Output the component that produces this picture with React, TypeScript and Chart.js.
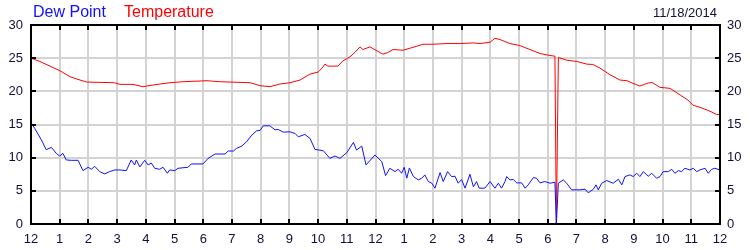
import React, { useEffect, useRef } from "react";
import { Chart, registerables } from "chart.js";

Chart.register(...registerables);

// Hour-of-day tick labels (noon → noon)
const hourLabels = [
  "12", "1", "2", "3", "4", "5", "6", "7", "8", "9", "10", "11",
  "12", "1", "2", "3", "4", "5", "6", "7", "8", "9", "10", "11", "12",
];

const legendNames = ["Dew Point", "Temperature"];
const dateLabel = "11/18/2014";

// Temperature: hours since noon, °C
const tempTimes = [
  0, 0.31, 0.66, 1.01, 1.36, 1.71, 1.94, 2.4, 2.9, 3.1, 3.55, 3.9, 4.25, 4.84,
  5.29, 6.13, 6.58, 7.63, 7.98, 8.32, 8.67, 9.02, 9.37, 9.72, 10.0, 10.14,
  10.24, 10.34, 10.69, 10.87, 11.11, 11.29, 11.46, 11.56, 11.81, 12.05, 12.26,
  12.43, 12.61, 12.96, 13.2, 13.44, 13.65, 14.0, 14.49, 14.94, 15.4, 15.64,
  15.99, 16.16, 16.34, 16.68, 17.03, 17.38, 17.73, 18.08, 18.25, 18.3, 18.37,
  18.66, 19.01, 19.36, 19.57, 19.82, 20.17, 20.52, 20.76, 20.97, 21.21, 21.46,
  21.63, 21.91, 22.26, 22.61, 22.88, 23.06, 23.3, 23.65, 23.89, 24.0,
];
const tempValues = [
  25.0, 24.5, 23.8, 23.1, 22.2, 21.7, 21.4, 21.35, 21.3, 21.05, 21.05, 20.7,
  20.95, 21.3, 21.45, 21.6, 21.45, 21.3, 20.85, 20.7, 21.1, 21.3, 21.7, 22.6,
  22.9, 23.5, 24.1, 23.8, 23.8, 24.6, 25.2, 25.9, 26.7, 26.3, 26.7, 26.1, 25.6,
  25.85, 26.3, 26.2, 26.5, 26.8, 27.1, 27.1, 27.2, 27.2, 27.3, 27.2, 27.4,
  28.0, 27.8, 27.2, 26.9, 26.3, 25.7, 25.4, 25.3, 0, 25.1, 24.7, 24.5, 24.1,
  24.05, 23.5, 22.5, 21.7, 21.6, 21.2, 20.8, 21.2, 21.35, 20.6, 20.45, 19.45,
  18.7, 17.9, 17.6, 17.0, 16.5, 16.5,
];

// Dew point: hours since noon, °C
const dewTimes = [
  0, 0.13, 0.36, 0.53, 0.71, 0.88, 1.0, 1.11, 1.23, 1.4, 1.64, 1.81, 1.99,
  2.1, 2.22, 2.39, 2.57, 2.74, 2.92, 3.09, 3.32, 3.49, 3.61, 3.67, 3.79, 3.96,
  4.08, 4.19, 4.31, 4.48, 4.6, 4.75, 4.83, 5.01, 5.12, 5.47, 5.58, 5.99, 6.17,
  6.41, 6.76, 6.87, 7.05, 7.16, 7.34, 7.51, 7.69, 7.86, 7.98, 8.09, 8.32, 8.5,
  8.61, 8.79, 9.02, 9.2, 9.31, 9.54, 9.72, 9.89, 10.18, 10.41, 10.59, 10.76,
  11.0, 11.23, 11.34, 11.52, 11.67, 11.98, 12.22, 12.35, 12.5, 12.68, 12.79,
  12.91, 13.0, 13.09, 13.18, 13.32, 13.49, 13.61, 13.72, 13.84, 13.96, 14.07,
  14.25, 14.36, 14.51, 14.65, 14.77, 14.88, 15.0, 15.12, 15.29, 15.41, 15.52,
  15.61, 15.81, 15.99, 16.16, 16.28, 16.39, 16.51, 16.57, 16.68, 16.8, 16.92,
  17.09, 17.21, 17.32, 17.5, 17.61, 17.73, 17.9, 18.08, 18.25, 18.3, 18.37,
  18.54, 18.66, 18.83, 19.12, 19.3, 19.41, 19.59, 19.68, 19.76, 19.88, 20.05,
  20.28, 20.46, 20.58, 20.69, 20.86, 20.98, 21.1, 21.21, 21.33, 21.5, 21.62,
  21.79, 21.91, 22.02, 22.2, 22.32, 22.43, 22.55, 22.66, 22.78, 22.95, 23.07,
  23.19, 23.3, 23.48, 23.59, 23.71, 23.82, 24.0,
];
const dewValues = [
  15.3, 14.4, 12.7, 11.2, 11.55, 10.65, 10.25, 10.65, 9.65, 9.6, 9.6, 8.05,
  8.55, 8.25, 8.7, 7.9, 7.55, 7.9, 8.15, 8.15, 8.05, 9.65, 8.9, 9.65, 8.6, 9.6,
  8.9, 9.2, 8.4, 8.25, 8.55, 7.65, 8.15, 8.05, 8.4, 8.55, 9.05, 9.05, 9.9,
  10.55, 10.55, 11.0, 11.0, 11.4, 11.75, 12.4, 13.4, 14.05, 14.1, 14.8, 14.8,
  14.2, 14.25, 13.85, 13.9, 13.65, 13.15, 13.5, 12.9, 11.25, 11.05, 9.9, 10.25,
  9.9, 10.75, 12.3, 11.15, 11.75, 8.9, 10.4, 9.4, 7.3, 8.4, 7.9, 8.25, 7.65,
  8.55, 6.9, 8.45, 7.15, 6.65, 6.9, 7.4, 6.4, 6.15, 5.4, 7.75, 6.4, 7.9, 7.15,
  7.2, 6.15, 6.7, 5.4, 7.5, 5.6, 6.4, 5.4, 5.4, 6.4, 5.4, 6.15, 5.4, 6.4, 7.15,
  6.65, 6.7, 6.2, 6.2, 5.4, 5.9, 7.0, 6.9, 6.2, 6.4, 6.15, 6.3, 0, 6.15, 6.65,
  6.15, 5.15, 5.15, 5.25, 4.7, 5.25, 5.9, 5.15, 6.15, 6.55, 6.15, 6.75, 5.9,
  7.15, 7.4, 7.15, 7.65, 7.15, 7.9, 7.2, 7.65, 6.9, 7.15, 7.9, 7.9, 8.25, 7.65,
  8.05, 7.9, 8.4, 8.15, 8.4, 7.9, 8.15, 8.4, 7.65, 8.25, 8.4, 8.15,
];

const FONT = "'Liberation Sans', Arial, sans-serif";
const TICK_COLOR = "#10103a";

const framePlugin = {
  id: "frameTicks",
  afterDraw(chart: any) {
    const { ctx, chartArea, scales } = chart;
    const { left, right, top, bottom } = chartArea;
    ctx.save();
    ctx.strokeStyle = "#000";
    ctx.lineWidth = 2;
    ctx.beginPath();
    for (let i = 0; i < hourLabels.length; i++) {
      const x = Math.round(scales.x.getPixelForValue(i));
      ctx.moveTo(x, top);
      ctx.lineTo(x, top + 5);
      ctx.moveTo(x, bottom);
      ctx.lineTo(x, bottom - 5);
    }
    for (let v = 0; v <= 30; v += 5) {
      const y = Math.round(scales.y.getPixelForValue(v));
      ctx.moveTo(left, y);
      ctx.lineTo(left + 5, y);
      ctx.moveTo(right, y);
      ctx.lineTo(right - 5, y);
    }
    ctx.stroke();
    ctx.strokeRect(left, top, right - left, bottom - top);
    ctx.restore();
  },
};

export default function App() {
  const canvasRef = useRef<HTMLCanvasElement | null>(null);

  useEffect(() => {
    const canvas = canvasRef.current;
    if (!canvas) return;
    const dewData = dewTimes.map((t, i) => ({ x: t, y: dewValues[i] }));
    const tempData = tempTimes.map((t, i) => ({ x: t, y: tempValues[i] }));
    const chart = new Chart(canvas, {
      type: "line",
      data: {
        datasets: [
          {
            label: legendNames[0],
            data: dewData,
            borderColor: "#1010ff",
            borderWidth: 1,
            pointRadius: 0,
            tension: 0,
            yAxisID: "y",
          },
          {
            label: legendNames[1],
            data: tempData,
            borderColor: "#ff0000",
            borderWidth: 1,
            pointRadius: 0,
            tension: 0,
            yAxisID: "y",
          },
        ],
      },
      options: {
        responsive: false,
        animation: false,
        devicePixelRatio: 1,
        layout: { padding: { top: 25, left: 0, right: 0, bottom: 0 } },
        plugins: {
          legend: { display: false },
          tooltip: { enabled: false },
        },
        scales: {
          x: {
            type: "linear",
            min: 0,
            max: 24,
            afterFit: (s: any) => {
              s.height = 26;
            },
            grid: { color: "#d3d3d3", lineWidth: 2, drawTicks: false },
            border: { display: false },
            ticks: {
              stepSize: 1,
              autoSkip: false,
              maxTicksLimit: 30,
              maxRotation: 0,
              padding: 8,
              color: TICK_COLOR,
              font: { family: FONT, size: 13 },
              callback: (v: any) => hourLabels[v] ?? "",
            },
          },
          y: {
            position: "left",
            min: 0,
            max: 30,
            afterFit: (s: any) => {
              s.width = 31;
            },
            grid: { color: "#d3d3d3", lineWidth: 2, drawTicks: false },
            border: { display: false },
            ticks: {
              stepSize: 5,
              padding: 8,
              color: TICK_COLOR,
              font: { family: FONT, size: 13 },
            },
          },
          y2: {
            position: "right",
            min: 0,
            max: 30,
            afterFit: (s: any) => {
              s.width = 30;
            },
            grid: { drawOnChartArea: false, drawTicks: false },
            border: { display: false },
            ticks: {
              stepSize: 5,
              padding: 7,
              color: TICK_COLOR,
              font: { family: FONT, size: 13 },
            },
          },
        },
      },
      plugins: [framePlugin],
    });
    return () => chart.destroy();
  }, []);

  return (
    <div
      style={{
        position: "fixed",
        left: 0,
        top: 0,
        width: 750,
        height: 250,
        background: "#fff",
        fontFamily: FONT,
      }}
    >
      <canvas ref={canvasRef} width={750} height={250} style={{ display: "block" }} />
      <span style={{ position: "absolute", left: 33, top: 3, fontSize: 16, color: "#1010ff", whiteSpace: "nowrap" }}>
        {legendNames[0]}
      </span>
      <span style={{ position: "absolute", left: 124, top: 3, fontSize: 16, color: "#ff0000", whiteSpace: "nowrap" }}>
        {legendNames[1]}
      </span>
      <span style={{ position: "absolute", right: 33, top: 5, fontSize: 13, color: TICK_COLOR, whiteSpace: "nowrap" }}>
        {dateLabel}
      </span>
    </div>
  );
}
